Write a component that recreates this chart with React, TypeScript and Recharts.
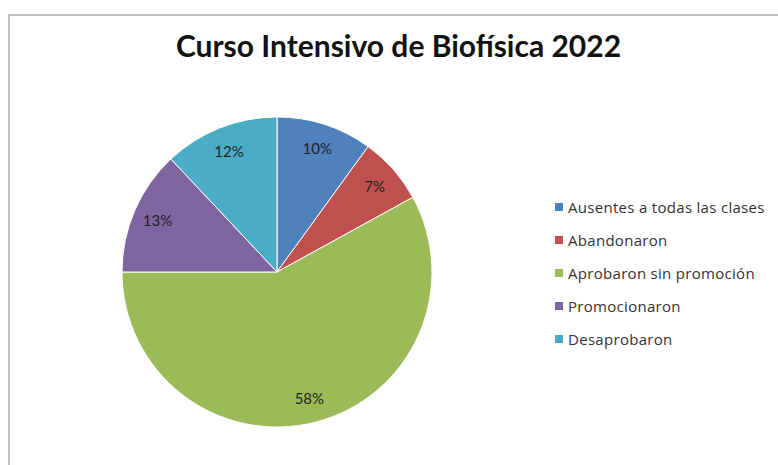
import React from 'react';
import { PieChart, Pie, Cell, Legend } from 'recharts';

const categories = [
  'Ausentes a todas las clases',
  'Abandonaron',
  'Aprobaron sin promoción',
  'Promocionaron',
  'Desaprobaron',
];
const values = [10, 7, 58, 13, 12];
const colors = ['#4F81BD', '#C0504D', '#9BBB59', '#8064A2', '#4BACC6'];
const title = 'Curso Intensivo de Biofísica 2022';

const data = categories.map((name, i) => ({ name, value: values[i] }));

const RADIAN = Math.PI / 180;

const renderLabel = (props: any) => {
  const { cx, cy, midAngle, outerRadius, percent } = props;
  const r = outerRadius * 0.84;
  const x = cx + r * Math.cos(-midAngle * RADIAN);
  const y = cy + r * Math.sin(-midAngle * RADIAN);
  return (
    <text
      x={x}
      y={y}
      textAnchor="middle"
      dominantBaseline="central"
      fill="#1f1f1f"
      style={{ fontFamily: 'Lato, "Open Sans", sans-serif', fontSize: 15 }}
    >
      {`${Math.round(percent * 100)}%`}
    </text>
  );
};

const renderLegend = () => {
  return (
    <div>
      {categories.map((name, i) => (
        <div
          key={name}
          style={{
            display: 'flex',
            alignItems: 'center',
            height: 33,
            fontFamily: '"Open Sans", sans-serif',
            fontSize: 15,
            letterSpacing: 0.3,
            color: '#333',
            whiteSpace: 'nowrap',
          }}
        >
          <span
            style={{
              display: 'inline-block',
              width: 8,
              height: 8,
              background: colors[i],
              marginRight: 5,
            }}
          />
          {name}
        </div>
      ))}
    </div>
  );
};

export default function App() {
  return (
    <div style={{ position: 'absolute', left: 0, top: 0, width: 778, height: 465, background: '#fff', overflow: 'hidden' }}>
      <div
        style={{
          position: 'absolute',
          left: 8,
          top: 14,
          width: 770,
          height: 451,
          borderLeft: '2px solid #c0c0c0',
          borderTop: '2px solid #c0c0c0',
          boxSizing: 'border-box',
        }}
      />
      <div
        style={{
          position: 'absolute',
          left: 0,
          top: 27,
          width: 797,
          textAlign: 'center',
          fontFamily: 'Lato, "Open Sans", sans-serif',
          fontWeight: 700,
          fontSize: 30,
          color: '#111',
        }}
      >
        {title}
      </div>
      <PieChart
        width={778}
        height={465}
        margin={{ top: 0, right: 0, bottom: 0, left: 0 }}
        style={{ position: 'absolute', left: 0, top: 0 }}
      >
        <Pie
          data={data}
          dataKey="value"
          nameKey="name"
          cx={277}
          cy={272}
          outerRadius={155}
          startAngle={90}
          endAngle={-270}
          stroke="#ffffff"
          strokeWidth={1}
          label={renderLabel}
          labelLine={false}
          isAnimationActive={false}
        >
          {data.map((d, i) => (
            <Cell key={d.name} fill={colors[i]} />
          ))}
        </Pie>
        <Legend
          content={renderLegend}
          wrapperStyle={{ position: 'absolute', left: 555, top: 190, width: 223, height: 170 }}
        />
      </PieChart>
    </div>
  );
}
